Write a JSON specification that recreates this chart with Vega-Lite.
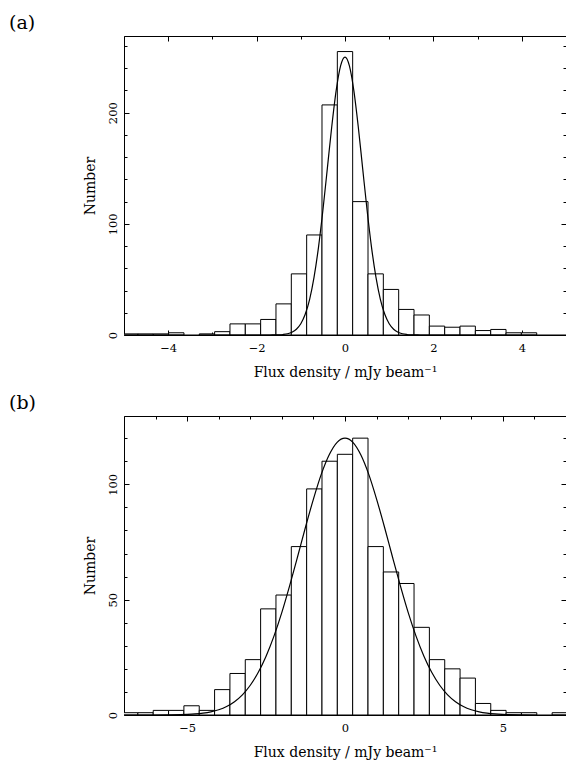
{
  "$schema": "https://vega.github.io/schema/vega-lite/v6.json",
  "padding": {"left": 8, "top": 13, "right": 0, "bottom": 0},
  "spacing": 13,
  "config": {
    "view": {"stroke": "black", "strokeWidth": 1},
    "axis": {"grid": false, "domain": false, "tickColor": "black", "tickWidth": 1, "labelColor": "black", "titleColor": "black", "labelFont": "DejaVu Serif", "labelFontSize": 11.5, "titleFont": "DejaVu Serif", "titleFontSize": 14, "titleFontWeight": "normal", "labelFlush": false, "labelOverlap": false},
    "title": {"font": "DejaVu Serif", "fontSize": 19, "fontWeight": "normal", "color": "black", "anchor": "start", "frame": "group", "dx": -115, "offset": 3}
  },
  "datasets": {
    "histA": [
      {"lo": -5.0315, "hi": -4.6845, "n": 1},
      {"lo": -4.6845, "hi": -4.3375, "n": 1},
      {"lo": -4.3375, "hi": -3.9905, "n": 1},
      {"lo": -3.9905, "hi": -3.6435, "n": 2},
      {"lo": -3.2965, "hi": -2.9495, "n": 1},
      {"lo": -2.9495, "hi": -2.6025, "n": 3},
      {"lo": -2.6025, "hi": -2.2555, "n": 10},
      {"lo": -2.2555, "hi": -1.9085, "n": 10},
      {"lo": -1.9085, "hi": -1.5615, "n": 14},
      {"lo": -1.5615, "hi": -1.2145, "n": 28},
      {"lo": -1.2145, "hi": -0.8675, "n": 55},
      {"lo": -0.8675, "hi": -0.5205, "n": 90},
      {"lo": -0.5205, "hi": -0.1735, "n": 207},
      {"lo": -0.1735, "hi": 0.1735, "n": 255},
      {"lo": 0.1735, "hi": 0.5205, "n": 120},
      {"lo": 0.5205, "hi": 0.8675, "n": 55},
      {"lo": 0.8675, "hi": 1.2145, "n": 41},
      {"lo": 1.2145, "hi": 1.5615, "n": 23},
      {"lo": 1.5615, "hi": 1.9085, "n": 18},
      {"lo": 1.9085, "hi": 2.2555, "n": 8},
      {"lo": 2.2555, "hi": 2.6025, "n": 7},
      {"lo": 2.6025, "hi": 2.9495, "n": 8},
      {"lo": 2.9495, "hi": 3.2965, "n": 4},
      {"lo": 3.2965, "hi": 3.6435, "n": 5},
      {"lo": 3.6435, "hi": 3.9905, "n": 2},
      {"lo": 3.9905, "hi": 4.3375, "n": 2}
    ],
    "fitA": [
      {"x": -5, "y": 0}, {"x": -2, "y": 0}, {"x": -1.8, "y": 0.01}, {"x": -1.7, "y": 0.02},
      {"x": -1.6, "y": 0.07}, {"x": -1.5, "y": 0.18}, {"x": -1.4, "y": 0.47}, {"x": -1.3, "y": 1.11},
      {"x": -1.2, "y": 2.48}, {"x": -1.1, "y": 5.17}, {"x": -1.0, "y": 10.1}, {"x": -0.9, "y": 18.6},
      {"x": -0.8, "y": 32.1}, {"x": -0.7, "y": 52.0}, {"x": -0.6, "y": 78.9}, {"x": -0.5, "y": 112.2},
      {"x": -0.4, "y": 149.7}, {"x": -0.3, "y": 187.4}, {"x": -0.2, "y": 219.9}, {"x": -0.1, "y": 242.1},
      {"x": 0, "y": 250},
      {"x": 0.1, "y": 242.1}, {"x": 0.2, "y": 219.9}, {"x": 0.3, "y": 187.4}, {"x": 0.4, "y": 149.7},
      {"x": 0.5, "y": 112.2}, {"x": 0.6, "y": 78.9}, {"x": 0.7, "y": 52.0}, {"x": 0.8, "y": 32.1},
      {"x": 0.9, "y": 18.6}, {"x": 1.0, "y": 10.1}, {"x": 1.1, "y": 5.17}, {"x": 1.2, "y": 2.48},
      {"x": 1.3, "y": 1.11}, {"x": 1.4, "y": 0.47}, {"x": 1.5, "y": 0.18}, {"x": 1.6, "y": 0.07},
      {"x": 1.7, "y": 0.02}, {"x": 1.8, "y": 0.01}, {"x": 2, "y": 0}, {"x": 5, "y": 0}
    ],
    "histB": [
      {"lo": -7.047, "hi": -6.561, "n": 1},
      {"lo": -6.561, "hi": -6.075, "n": 1},
      {"lo": -6.075, "hi": -5.589, "n": 2},
      {"lo": -5.589, "hi": -5.103, "n": 2},
      {"lo": -5.103, "hi": -4.617, "n": 4},
      {"lo": -4.617, "hi": -4.131, "n": 2},
      {"lo": -4.131, "hi": -3.645, "n": 11},
      {"lo": -3.645, "hi": -3.159, "n": 18},
      {"lo": -3.159, "hi": -2.673, "n": 24},
      {"lo": -2.673, "hi": -2.187, "n": 46},
      {"lo": -2.187, "hi": -1.701, "n": 52},
      {"lo": -1.701, "hi": -1.215, "n": 73},
      {"lo": -1.215, "hi": -0.729, "n": 98},
      {"lo": -0.729, "hi": -0.243, "n": 110},
      {"lo": -0.243, "hi": 0.243, "n": 113},
      {"lo": 0.243, "hi": 0.729, "n": 120},
      {"lo": 0.729, "hi": 1.215, "n": 73},
      {"lo": 1.215, "hi": 1.701, "n": 62},
      {"lo": 1.701, "hi": 2.187, "n": 57},
      {"lo": 2.187, "hi": 2.673, "n": 38},
      {"lo": 2.673, "hi": 3.159, "n": 24},
      {"lo": 3.159, "hi": 3.645, "n": 20},
      {"lo": 3.645, "hi": 4.131, "n": 16},
      {"lo": 4.131, "hi": 4.617, "n": 5},
      {"lo": 4.617, "hi": 5.103, "n": 2},
      {"lo": 5.103, "hi": 5.589, "n": 1},
      {"lo": 5.589, "hi": 6.075, "n": 1},
      {"lo": 6.561, "hi": 7.047, "n": 1}
    ],
    "fitB": [
      {"x": -7, "y": 0}, {"x": -6, "y": 0.01}, {"x": -5.5, "y": 0.06}, {"x": -5, "y": 0.24},
      {"x": -4.75, "y": 0.45}, {"x": -4.5, "y": 0.79}, {"x": -4.25, "y": 1.36}, {"x": -4, "y": 2.27},
      {"x": -3.75, "y": 3.67}, {"x": -3.5, "y": 5.76}, {"x": -3.25, "y": 8.75}, {"x": -3, "y": 12.9},
      {"x": -2.75, "y": 18.4}, {"x": -2.5, "y": 25.5}, {"x": -2.25, "y": 34.2}, {"x": -2, "y": 44.5},
      {"x": -1.75, "y": 56.2}, {"x": -1.5, "y": 68.7}, {"x": -1.25, "y": 81.5}, {"x": -1, "y": 93.6},
      {"x": -0.75, "y": 104.4}, {"x": -0.5, "y": 112.8}, {"x": -0.25, "y": 118.2}, {"x": 0, "y": 120},
      {"x": 0.25, "y": 118.2}, {"x": 0.5, "y": 112.8}, {"x": 0.75, "y": 104.4}, {"x": 1, "y": 93.6},
      {"x": 1.25, "y": 81.5}, {"x": 1.5, "y": 68.7}, {"x": 1.75, "y": 56.2}, {"x": 2, "y": 44.5},
      {"x": 2.25, "y": 34.2}, {"x": 2.5, "y": 25.5}, {"x": 2.75, "y": 18.4}, {"x": 3, "y": 12.9},
      {"x": 3.25, "y": 8.75}, {"x": 3.5, "y": 5.76}, {"x": 3.75, "y": 3.67}, {"x": 4, "y": 2.27},
      {"x": 4.25, "y": 1.36}, {"x": 4.5, "y": 0.79}, {"x": 4.75, "y": 0.45}, {"x": 5, "y": 0.24},
      {"x": 5.5, "y": 0.06}, {"x": 6, "y": 0.01}, {"x": 7, "y": 0}
    ]
  },
  "vconcat": [
    {
      "title": {"text": "(a)"},
      "width": 442,
      "height": 299,
      "resolve": {"axis": {"x": "independent", "y": "independent"}},
      "layer": [
        {
          "data": {"name": "histA"},
          "mark": {"type": "rect", "fill": "white", "stroke": "black", "strokeWidth": 1, "clip": true},
          "encoding": {
            "x": {"field": "lo", "type": "quantitative", "scale": {"domain": [-5, 5], "nice": false, "zero": false},
              "axis": {"orient": "bottom", "values": [-5, -4, -3, -2, -1, 0, 1, 2, 3, 4, 5],
                "tickSize": {"condition": {"test": "datum.value % 2 === 0", "value": -5}, "value": -3},
                "labelExpr": "datum.value % 2 === 0 ? datum.label : ''",
                "labelPadding": 12, "title": "Flux density / mJy beam⁻¹", "titlePadding": 10}},
            "x2": {"field": "hi"},
            "y": {"field": "n", "type": "quantitative", "scale": {"domain": [0, 269], "nice": false},
              "axis": {"orient": "left", "values": [0, 20, 40, 60, 80, 100, 120, 140, 160, 180, 200, 220, 240, 260],
                "tickSize": {"condition": {"test": "datum.value % 100 === 0", "value": -5}, "value": -3},
                "labelExpr": "datum.value % 100 === 0 ? datum.label : ''",
                "labelAngle": -90, "labelAlign": "center", "labelBaseline": "alphabetic",
                "labelPadding": 13, "title": "Number", "titlePadding": 8}},
            "y2": {"datum": 0}
          }
        },
        {
          "data": {"name": "fitA"},
          "mark": {"type": "line", "color": "black", "strokeWidth": 1.2, "interpolate": "monotone", "clip": true},
          "encoding": {
            "x": {"field": "x", "type": "quantitative",
              "axis": {"orient": "top", "values": [-5, -4, -3, -2, -1, 0, 1, 2, 3, 4, 5],
                "tickSize": {"condition": {"test": "datum.value % 2 === 0", "value": -5}, "value": -3},
                "labels": false, "title": null}},
            "y": {"field": "y", "type": "quantitative",
              "axis": {"orient": "right", "values": [0, 20, 40, 60, 80, 100, 120, 140, 160, 180, 200, 220, 240, 260],
                "tickSize": {"condition": {"test": "datum.value % 100 === 0", "value": -5}, "value": -3},
                "labels": false, "title": null}}
          }
        }
      ]
    },
    {
      "title": {"text": "(b)"},
      "width": 442,
      "height": 299,
      "resolve": {"axis": {"x": "independent", "y": "independent"}},
      "layer": [
        {
          "data": {"name": "histB"},
          "mark": {"type": "rect", "fill": "white", "stroke": "black", "strokeWidth": 1, "clip": true},
          "encoding": {
            "x": {"field": "lo", "type": "quantitative", "scale": {"domain": [-7, 7], "nice": false, "zero": false},
              "axis": {"orient": "bottom", "values": [-7, -6, -5, -4, -3, -2, -1, 0, 1, 2, 3, 4, 5, 6, 7],
                "tickSize": {"condition": {"test": "datum.value % 5 === 0", "value": -5}, "value": -3},
                "labelExpr": "datum.value % 5 === 0 ? datum.label : ''",
                "labelPadding": 12, "title": "Flux density / mJy beam⁻¹", "titlePadding": 10}},
            "x2": {"field": "hi"},
            "y": {"field": "n", "type": "quantitative", "scale": {"domain": [0, 129.6], "nice": false},
              "axis": {"orient": "left", "values": [0, 10, 20, 30, 40, 50, 60, 70, 80, 90, 100, 110, 120],
                "tickSize": {"condition": {"test": "datum.value % 50 === 0", "value": -5}, "value": -3},
                "labelExpr": "datum.value % 50 === 0 ? datum.label : ''",
                "labelAngle": -90, "labelAlign": "center", "labelBaseline": "alphabetic",
                "labelPadding": 13, "title": "Number", "titlePadding": 8}},
            "y2": {"datum": 0}
          }
        },
        {
          "data": {"name": "fitB"},
          "mark": {"type": "line", "color": "black", "strokeWidth": 1.2, "interpolate": "monotone", "clip": true},
          "encoding": {
            "x": {"field": "x", "type": "quantitative",
              "axis": {"orient": "top", "values": [-7, -6, -5, -4, -3, -2, -1, 0, 1, 2, 3, 4, 5, 6, 7],
                "tickSize": {"condition": {"test": "datum.value % 5 === 0", "value": -5}, "value": -3},
                "labels": false, "title": null}},
            "y": {"field": "y", "type": "quantitative",
              "axis": {"orient": "right", "values": [0, 10, 20, 30, 40, 50, 60, 70, 80, 90, 100, 110, 120],
                "tickSize": {"condition": {"test": "datum.value % 50 === 0", "value": -5}, "value": -3},
                "labels": false, "title": null}}
          }
        }
      ]
    }
  ]
}
